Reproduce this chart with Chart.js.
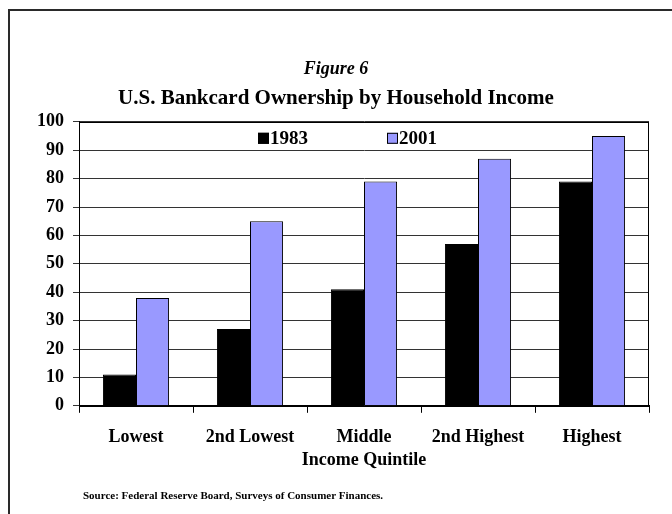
<!DOCTYPE html>
<html>
<head>
<meta charset="utf-8">
<script src="https://cdn.jsdelivr.net/npm/chart.js@4.4.1/dist/chart.umd.min.js"></script>
<style>
  html, body { margin: 0; padding: 0; background: #fff; }
  #wrap { width: 672px; height: 514px; position: relative; }
</style>
</head>
<body>
<div id="wrap"><canvas id="c" width="672" height="514"></canvas></div>
<script>
// Share of households holding a bankcard, by income quintile (percent)
const quintiles = ['Lowest', '2nd Lowest', 'Middle', '2nd Highest', 'Highest'];
const own1983 = [11, 27, 41, 57, 79];
const own2001 = [38, 65, 79, 87, 95];
const seriesNames = ['1983', '2001'];
const yTicks = { min: 0, max: 100, step: 10 };

const serif = '"Liberation Serif", "Times New Roman", serif';

// White page with a thin frame along the top and left edges
const pageFrame = {
  id: 'pageFrame',
  beforeDraw(chart) {
    const ctx = chart.ctx;
    ctx.save();
    ctx.fillStyle = '#fff';
    ctx.fillRect(0, 0, chart.width, chart.height);
    ctx.fillStyle = '#2a2a2a';
    ctx.fillRect(8, 9, chart.width - 8, 2);
    ctx.fillRect(8, 9, 2, chart.height - 9);
    ctx.restore();
  },
  afterDraw(chart) {
    const ctx = chart.ctx;
    ctx.save();
    ctx.font = 'bold 11px ' + serif;
    ctx.fillStyle = '#000';
    ctx.textAlign = 'left';
    ctx.textBaseline = 'middle';
    ctx.fillText('Source: Federal Reserve Board, Surveys of Consumer Finances.', 83, 496);
    ctx.restore();
  }
};

// Border around the plotting area
const plotBorder = {
  id: 'plotBorder',
  afterDatasetsDraw(chart) {
    const a = chart.chartArea;
    const ctx = chart.ctx;
    ctx.save();
    ctx.strokeStyle = '#000';
    ctx.lineWidth = 1;
    ctx.strokeRect(Math.round(a.left) + 0.5, Math.round(a.top) + 0.5,
                   Math.round(a.right - a.left) - 1, Math.round(a.bottom - a.top));
    ctx.restore();
  }
};

// Legend drawn inside the plot, near the top
const innerLegend = {
  id: 'innerLegend',
  afterDatasetsDraw(chart) {
    const a = chart.chartArea;
    const ctx = chart.ctx;
    const spots = [0.314, 0.540];
    const yc = a.top + 16;
    ctx.save();
    ctx.font = 'bold 19px ' + serif;
    ctx.textBaseline = 'middle';
    ctx.textAlign = 'left';
    chart.data.datasets.forEach((ds, i) => {
      const x = Math.round(a.left + spots[i] * (a.right - a.left));
      ctx.fillStyle = ds.backgroundColor;
      ctx.fillRect(x, yc - 5, 11, 11);
      ctx.strokeStyle = '#000';
      ctx.lineWidth = 1;
      ctx.strokeRect(x + 0.5, yc - 4.5, 10, 10);
      ctx.fillStyle = '#000';
      ctx.fillText(ds.label, x + 12, yc + 1);
    });
    ctx.restore();
  }
};

new Chart(document.getElementById('c'), {
  type: 'bar',
  data: {
    labels: quintiles,
    datasets: [
      { label: seriesNames[0], data: own1983, backgroundColor: '#000000', borderColor: '#000', borderWidth: 1 },
      { label: seriesNames[1], data: own2001, backgroundColor: '#9999ff', borderColor: '#000', borderWidth: 1 }
    ]
  },
  options: {
    responsive: false,
    animation: false,
    layout: { padding: { left: 23, right: 23, top: 0, bottom: 39 } },
    datasets: { bar: { categoryPercentage: 0.58, barPercentage: 1.0 } },
    plugins: {
      legend: { display: false },
      tooltip: { enabled: false },
      title: {
        display: true,
        text: 'Figure 6',
        color: '#000',
        font: { family: serif, size: 18, style: 'italic', weight: 'bold', lineHeight: 1.2 },
        padding: { top: 59, bottom: 0 }
      },
      subtitle: {
        display: true,
        text: 'U.S. Bankcard Ownership by Household Income',
        color: '#000',
        font: { family: serif, size: 21, weight: 'bold', lineHeight: 1.2 },
        padding: { top: 5, bottom: 11 }
      }
    },
    scales: {
      x: {
        grid: { drawOnChartArea: false, drawTicks: true, tickLength: 7, color: '#000', offset: true },
        border: { display: true, color: '#000', width: 1 },
        ticks: { color: '#000', padding: 14, maxRotation: 0, font: { family: serif, size: 18, weight: 'bold' } },
        title: {
          display: true,
          text: 'Income Quintile',
          color: '#000',
          font: { family: serif, size: 18, weight: 'bold' },
          padding: { top: -13, bottom: 4 }
        }
      },
      y: {
        min: yTicks.min,
        max: yTicks.max,
        afterFit(scale) { scale.width = 56; },
        grid: { color: '#333', lineWidth: 1, drawTicks: true, tickLength: 6 },
        border: { display: true, color: '#000', width: 1 },
        ticks: { stepSize: yTicks.step, color: '#000', padding: 9, font: { family: serif, size: 18, weight: 'bold' } }
      }
    }
  },
  plugins: [pageFrame, plotBorder, innerLegend]
});
</script>
</body>
</html>
